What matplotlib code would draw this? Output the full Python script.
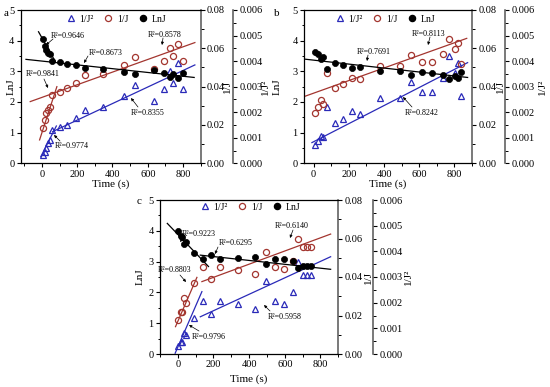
import matplotlib
matplotlib.use('Agg')
import matplotlib.pyplot as plt
from matplotlib.ticker import MultipleLocator, FormatStrFormatter
from matplotlib.lines import Line2D

plt.rcParams['font.family'] = ['Liberation Serif', 'DejaVu Serif']
plt.rcParams['mathtext.fontset'] = 'stix'

# ---------------- data ----------------
# panel a
a_time = [5, 15, 25, 35, 45, 60, 100, 145, 192, 243, 345, 463, 527, 637, 692, 724, 745, 774, 798]
a_lnj = [4.06, 3.84, 3.69, 3.61, 3.56, 3.35, 3.29, 3.25, 3.19, 3.11, 3.09, 2.98, 2.92, 3.03, 2.95, 2.82, 2.90, 2.78, 2.95]
a_inv = [0.0183, 0.0226, 0.0261, 0.0278, 0.0292, 0.0357, 0.0374, 0.0391, 0.0421, 0.0461,
         0.0466, 0.0513, 0.0557, 0.0490, 0.0536, 0.0600, 0.0560, 0.0623, 0.0536]
a_inv2 = [0.00033, 0.00046, 0.00061, 0.00078, 0.00091, 0.00130, 0.00141, 0.00150, 0.00176, 0.00209,
          0.00219, 0.00263, 0.00307, 0.00245, 0.00290, 0.00363, 0.00313, 0.00391, 0.00290]
# fitted lines (end points)
a_fit_lnj = [([-19, 76], [4.29, 3.32]), ([-90, 863], [3.39, 2.80])]
a_fit_inv = [([-13, 85], [0.0122, 0.0400]), ([-66, 867], [0.0322, 0.0630])]
a_fit_inv2 = [([-6, 82], [0.00026, 0.00146]), ([61, 867], [0.00124, 0.00385])]
a_r2 = ['R²=0.9646', 'R²=0.8673', 'R²=0.9841', 'R²=0.8578', 'R²=0.8355', 'R²=0.9774']

# panel b
b_time = [10, 25, 40, 55, 76, 123, 166, 217, 265, 378, 491, 554, 614, 675, 737, 769, 803, 818, 837]
b_lnj = [3.63, 3.57, 3.40, 3.48, 3.07, 3.27, 3.20, 3.12, 3.14, 3.00, 3.01, 2.88, 2.97, 2.95, 2.88, 2.75, 2.86, 2.77, 2.98]
b_inv = [0.0264, 0.0292, 0.0330, 0.0310, 0.0470, 0.0391, 0.0412, 0.0447, 0.0438, 0.0508,
         0.0508, 0.0563, 0.0527, 0.0527, 0.0570, 0.0647, 0.0595, 0.0626, 0.0517]
b_inv2 = [0.00072, 0.00089, 0.00107, 0.00102, 0.00222, 0.00157, 0.00173, 0.00205, 0.00193, 0.00254,
          0.00254, 0.00317, 0.00280, 0.00280, 0.00333, 0.00420, 0.00355, 0.00394, 0.00263]
b_fit_lnj = [([-55, 875], [3.40, 2.80])]
b_fit_inv = [([-55, 870], [0.0348, 0.0652])]
b_fit_inv2 = [([-10, 875], [0.00081, 0.00394])]
b_r2 = ['R²=0.7691', 'R²=0.8113', 'R²=0.8242']

# panel c
c_time = [2, 15, 24, 35, 48, 91, 141, 187, 237, 339, 433, 493, 544, 594, 646, 676, 700, 724, 748]
c_lnj = [4.00, 3.83, 3.81, 3.57, 3.65, 3.29, 3.07, 3.21, 3.07, 3.11, 3.16, 2.92, 3.07, 3.08, 3.03, 2.80, 2.87, 2.87, 2.87]
c_inv = [0.0177, 0.0217, 0.0217, 0.0289, 0.0263, 0.0371, 0.0450, 0.0388, 0.0450, 0.0436,
         0.0416, 0.0532, 0.0454, 0.0442, 0.0485, 0.0596, 0.0554, 0.0554, 0.0554]
c_inv2 = [0.00031, 0.00048, 0.00048, 0.00083, 0.00073, 0.00139, 0.00205, 0.00155, 0.00206, 0.00194,
          0.00175, 0.00284, 0.00206, 0.00196, 0.00240, 0.00360, 0.00309, 0.00309, 0.00309]
c_fit_lnj = [([-59, 172], [4.24, 2.84]), ([126, 857], [3.21, 2.75])]
c_fit_inv = [([-13, 107], [0.0142, 0.0398]), ([135, 857], [0.0376, 0.0623])]
c_fit_inv2 = [([-15, 135], [0.00003, 0.00243]), ([126, 857], [0.00145, 0.00379])]
c_r2 = ['R²=0.9223', 'R²=0.6295', 'R²=0.6140', 'R²=0.8803', 'R²=0.5958', 'R²=0.9796']

legend_labels = ['1/J²', '1/J', 'LnJ']

# ---------------- styling ----------------
W, H = 550, 387
BLUE = '#2a2ab8'
BROWN = '#a3352f'
SPINE_GRAY = '#555555'
fig = plt.figure(figsize=(W / 100, H / 100), dpi=100)


def fpx(x, y):
    return (x, H - y)


def panel(box, off_px, xlim, t, lnj, inv, inv2, fl, fi, fi2, notes, letter, letter_xy,
          leg_x, leg_top, lab1_off, lab2_off, lab3_off, xlab_off):
    l, r, top, bot = box
    w, h = r - l, bot - top
    ax = fig.add_axes([l / W, (H - bot) / H, w / W, h / H])
    ax2 = ax.twinx()
    ax3 = ax.twinx()
    ax3.set_zorder(1)
    ax2.set_zorder(2)
    ax.set_zorder(3)
    ax.patch.set_visible(False)
    ax2.patch.set_visible(False)

    ax.set_xlim(*xlim)
    ax.set_ylim(0, 5)
    ax2.set_ylim(0, 0.08)
    ax3.set_ylim(0, 0.006)

    # series
    ax3.plot(t, inv2, linestyle='none', marker='^', ms=4.6, mfc='none', mec=BLUE, mew=0.9)
    ax2.plot(t, inv, linestyle='none', marker='o', ms=4.4, mfc='none', mec=BROWN, mew=0.9)
    ax.plot(t, lnj, linestyle='none', marker='o', ms=4.4, mfc='black', mec='black', mew=0.5)
    for xs, ys in fi2:
        ax3.plot(xs, ys, color=BLUE, lw=0.9)
    for xs, ys in fi:
        ax2.plot(xs, ys, color=BROWN, lw=0.9)
    for xs, ys in fl:
        ax.plot(xs, ys, color='black', lw=0.9)

    # axes styling
    ax.xaxis.set_major_locator(MultipleLocator(200))
    ax.xaxis.set_minor_locator(MultipleLocator(100))
    ax.yaxis.set_major_locator(MultipleLocator(1))
    ax.yaxis.set_minor_locator(MultipleLocator(0.5))
    ax2.yaxis.set_major_locator(MultipleLocator(0.02))
    ax2.yaxis.set_minor_locator(MultipleLocator(0.01))
    ax2.yaxis.set_major_formatter(FormatStrFormatter('%.2f'))
    ax3.yaxis.set_major_locator(MultipleLocator(0.001))
    ax3.yaxis.set_minor_locator(MultipleLocator(0.0005))
    ax3.yaxis.set_major_formatter(FormatStrFormatter('%.3f'))
    for a in (ax, ax2, ax3):
        a.tick_params(which='major', direction='out', length=3, width=0.8, labelsize=7.5, pad=1.5)
        a.tick_params(which='minor', direction='out', length=1.8, width=0.7)
    ax.tick_params(axis='y', which='both', right=False)
    ax.tick_params(axis='x', which='both', top=False)

    for s in ('left', 'bottom', 'top'):
        ax.spines[s].set_linewidth(0.9)
    ax.spines['right'].set_visible(False)
    for s in ('left', 'bottom', 'top'):
        ax2.spines[s].set_visible(False)
        ax3.spines[s].set_visible(False)
    ax2.spines['right'].set_color(SPINE_GRAY)
    ax2.spines['right'].set_linewidth(1.1)
    ax3.spines['right'].set_position(('axes', 1 + off_px / w))
    ax3.spines['right'].set_color(SPINE_GRAY)
    ax3.spines['right'].set_linewidth(1.1)

    ax.set_xlabel('Time (s)', fontsize=8)
    ax.xaxis.set_label_coords(0.5, -xlab_off / h)
    ax.set_ylabel('LnJ', fontsize=8)
    ax.yaxis.set_label_coords(-lab1_off / w, 0.5)
    ax2.set_ylabel('1/J', fontsize=8)
    ax2.yaxis.set_label_coords(1 + lab2_off / w, 0.5)
    ax3.set_ylabel('1/J²', fontsize=8)
    ax3.yaxis.set_label_coords(1 + (off_px + lab3_off) / w, 0.5)

    # legend
    handles = [Line2D([], [], linestyle='none', marker='^', ms=4.6, mfc='none', mec=BLUE, mew=0.9),
               Line2D([], [], linestyle='none', marker='o', ms=4.4, mfc='none', mec=BROWN, mew=0.9),
               Line2D([], [], linestyle='none', marker='o', ms=4.4, mfc='black', mec='black')]
    ax.legend(handles, legend_labels, ncol=3, frameon=False, fontsize=7,
              loc='upper left', bbox_to_anchor=((leg_x - l) / w, 1 + leg_top / h),
              handlelength=1.0, handletextpad=0.4, columnspacing=1.0, borderpad=0.2)

    # R² notes: (text, text_xy, tail_xy, tip_xy) in figure pixels (from top)
    for txt, txy, tail, tip in notes:
        fig.text(*fpx(*txy), txt, fontsize=5.8, ha='left', va='center',
                 transform=None)
        ax.annotate('', xy=fpx(*tip), xycoords='figure pixels',
                    xytext=fpx(*tail), textcoords='figure pixels',
                    arrowprops=dict(arrowstyle='-|>', lw=0.5, color='black',
                                    mutation_scale=4, shrinkA=0, shrinkB=0))
    fig.text(*fpx(*letter_xy), letter, fontsize=8, ha='left', va='center', transform=None)


notes_a = [
    (a_r2[0], (51, 36), (53, 39), (46, 45)),
    (a_r2[1], (89, 53), (88, 56), (84, 63)),
    (a_r2[2], (26, 74), (44, 79), (48, 88)),
    (a_r2[3], (148, 35), (163, 38), (162, 45)),
    (a_r2[4], (131, 113), (138, 107), (131, 98)),
    (a_r2[5], (55, 146), (60, 141), (54, 135)),
]
notes_b = [
    (b_r2[0], (357, 52), (368, 55), (367, 61)),
    (b_r2[1], (412, 34), (430, 37), (428, 45)),
    (b_r2[2], (405, 113), (412, 107), (403, 97)),
]
notes_c = [
    (c_r2[0], (182, 234), (184, 237), (180, 242)),
    (c_r2[1], (219, 243), (218, 247), (215, 254)),
    (c_r2[2], (275, 226), (293, 230), (290, 238)),
    (c_r2[3], (158, 270), (180, 275), (186, 282)),
    (c_r2[4], (268, 317), (270, 311), (264, 305)),
    (c_r2[5], (192, 337), (199, 331), (189, 325)),
]

panel((20.7, 200.7, 10, 163.3), 32.6, (-120, 900), a_time, a_lnj, a_inv, a_inv2,
      a_fit_lnj, a_fit_inv, a_fit_inv2, notes_a, 'a', (4, 13), 59, 2, 5, 22.5, 28, 16)
panel((304, 472, 10, 163.3), 33, (-55, 900), b_time, b_lnj, b_inv, b_inv2,
      b_fit_lnj, b_fit_inv, b_fit_inv2, notes_b, 'b', (274, 13), 328, 2, 22, 24, 33, 16)
panel((160, 338.3, 200, 354), 35, (-100, 900), c_time, c_lnj, c_inv, c_inv2,
      c_fit_lnj, c_fit_inv, c_fit_inv2, notes_c, 'c', (137, 202), 193, 4, 15, 26, 31, 20)

fig.savefig('out.png', dpi=100)
